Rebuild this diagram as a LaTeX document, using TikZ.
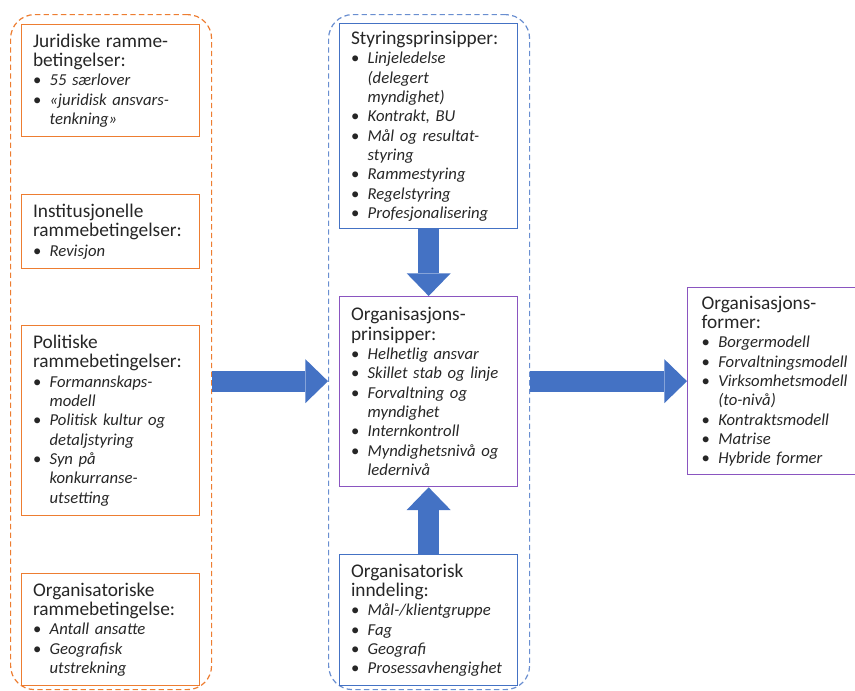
\documentclass[tikz,border=0pt]{standalone}
\usepackage{fontspec}
\setmainfont{Carlito}
\usepackage{tikz}
\usetikzlibrary{arrows.meta,positioning,calc}
\definecolor{rOrange}{HTML}{ED7D31}
\definecolor{rBlue}{HTML}{4472C4}
\definecolor{rPurple}{HTML}{8A55C0}
\definecolor{ink}{HTML}{262626}
\newcommand{\hode}[1]{{\fontsize{14.5pt}{14.5pt}\selectfont #1}}
\newcommand{\pkt}[1]{\makebox[12.5pt][l]{\textbullet}\textit{#1}}
\newcommand{\forts}[1]{\hspace*{12.5pt}\textit{#1}}

\begin{document}
\begin{tikzpicture}[x=0.75pt,y=-0.75pt,font=\fontsize{12.5pt}{14.5pt}\selectfont,
  boks/.style={draw,line width=1pt,anchor=north west,align=left,inner xsep=8.5pt,text width=116.5pt,text=ink},
  ramme/.style={boks,draw=rOrange},
  styring/.style={boks,draw=rBlue},
  prinsipp/.style={boks,draw=rPurple},
  gruppe/.style={draw,dash pattern=on 4pt off 2.5pt,line width=0.9pt,rounded corners=18pt,anchor=north west,inner sep=0pt,minimum width=150.75pt,minimum height=506.25pt},
  blokkpil/.style={rBlue,line width=16pt,-{Triangle[width=33pt,length=17pt,line width=0pt]}}]
\useasboundingbox (0,0) rectangle (855,690);
\node[gruppe,draw=rOrange] (rammer) at (10,14) {};
\node[gruppe,draw=rBlue!80] (midt) at (328,14) {};
\node[ramme,minimum height=84pt] (jur) at (21,24) {\hode{Juridiske ramme-\\betingelser:}\\
  \pkt{55 særlover}\\ \pkt{«juridisk ansvars-}\\ \forts{tenkning»}};
\node[ramme,minimum height=55.5pt] (inst) at (21,194) {\hode{Institusjonelle\\rammebetingelser:}\\
  \pkt{Revisjon}};
\node[ramme,minimum height=142.5pt] (pol) at (21,325) {\hode{Politiske\\rammebetingelser:}\\
  \pkt{Formannskaps-}\\ \forts{modell}\\ \pkt{Politisk kultur og}\\ \forts{detaljstyring}\\
  \pkt{Syn på}\\ \forts{konkurranse-}\\ \forts{utsetting}};
\node[ramme,minimum height=84pt] (orgr) at (21,573) {\hode{Organisatoriske\\rammebetingelse:}\\
  \pkt{Antall ansatte}\\ \pkt{Geografisk}\\ \forts{utstrekning}};
\node[styring,minimum height=153.75pt] (styr) at (339,23) {\hode{Styringsprinsipper:}\\
  \pkt{Linjeledelse}\\ \forts{(delegert}\\ \forts{myndighet)}\\ \pkt{Kontrakt, BU}\\
  \pkt{Mål og resultat-}\\ \forts{styring}\\ \pkt{Rammestyring}\\ \pkt{Regelstyring}\\
  \pkt{Profesjonalisering}};
\node[prinsipp,minimum height=142.5pt] (prins) at (339,296) {\hode{Organisasjons-\\prinsipper:}\\
  \pkt{Helhetlig ansvar}\\ \pkt{Skillet stab og linje}\\ \pkt{Forvaltning og}\\ \forts{myndighet}\\
  \pkt{Internkontroll}\\ \pkt{Myndighetsnivå og}\\ \forts{ledernivå}};
\node[styring,minimum height=98.25pt] (innd) at (339,554) {\hode{Organisatorisk\\inndeling:}\\
  \pkt{Mål-/klientgruppe}\\ \pkt{Fag}\\ \pkt{Geografi}\\ \pkt{Prosessavhengighet}};
\node[prinsipp,inner xsep=10.5pt,text width=129pt,minimum height=140.25pt] (former) at (687,287) {\hode{Organisasjons-\\former:}\\
  \pkt{Borgermodell}\\ \pkt{Forvaltningsmodell}\\ \pkt{Virksomhetsmodell}\\ \forts{(to-nivå)}\\
  \pkt{Kontraktsmodell}\\ \pkt{Matrise}\\ \pkt{Hybride former}};
\draw[blokkpil] (styr.south) -- (prins.north);
\draw[blokkpil] (innd.north) -- (prins.south);
\draw[blokkpil] (rammer.east |- former.west) -- (midt.west |- former.west);
\draw[blokkpil] (midt.east |- former.west) -- (former.west);
\end{tikzpicture}
\end{document}
